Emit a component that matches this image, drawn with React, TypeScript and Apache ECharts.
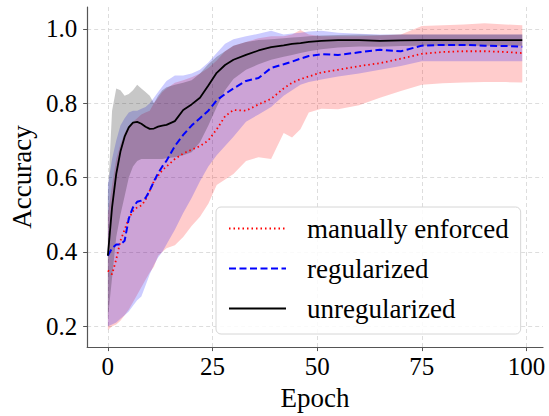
import React, { useEffect, useRef } from "react";
import * as echarts from "echarts";

const epochs = [0,1,2,3,4,5,6,7,8,9,10,11,12,13,14,16,18,20,22,24,26,28,30,33,36,39,42,44,46,48,51,55,60,65,70,75,80,85,90,95,99];

const unregMean = [0.39,0.52,0.61,0.67,0.71,0.735,0.748,0.75,0.745,0.737,0.731,0.732,0.737,0.74,0.742,0.752,0.782,0.797,0.815,0.848,0.882,0.903,0.917,0.93,0.942,0.951,0.956,0.96,0.962,0.965,0.968,0.97,0.97,0.968,0.969,0.97,0.97,0.97,0.97,0.97,0.97];
const unregLo = [0.22,0.33,0.44,0.5,0.55,0.6,0.63,0.645,0.65,0.65,0.65,0.65,0.65,0.65,0.652,0.655,0.66,0.668,0.695,0.74,0.79,0.835,0.865,0.89,0.905,0.917,0.925,0.93,0.935,0.94,0.945,0.95,0.953,0.952,0.954,0.955,0.955,0.955,0.955,0.955,0.955];
const unregHi = [0.55,0.78,0.84,0.835,0.82,0.825,0.835,0.85,0.84,0.83,0.82,0.8,0.82,0.835,0.843,0.85,0.855,0.862,0.88,0.905,0.925,0.94,0.955,0.965,0.97,0.972,0.975,0.977,0.978,0.98,0.982,0.984,0.985,0.984,0.985,0.985,0.985,0.985,0.985,0.985,0.985];

const regMean = [0.39,0.41,0.42,0.42,0.43,0.49,0.52,0.535,0.538,0.545,0.565,0.59,0.612,0.63,0.645,0.685,0.715,0.74,0.76,0.78,0.808,0.825,0.84,0.86,0.868,0.895,0.905,0.912,0.92,0.927,0.932,0.93,0.937,0.944,0.94,0.955,0.957,0.957,0.955,0.954,0.952];
const regLo = [0.2,0.205,0.21,0.22,0.23,0.24,0.255,0.27,0.28,0.31,0.34,0.365,0.385,0.4,0.42,0.46,0.505,0.545,0.59,0.63,0.66,0.685,0.71,0.75,0.77,0.79,0.82,0.835,0.85,0.857,0.864,0.872,0.88,0.89,0.9,0.913,0.913,0.913,0.913,0.913,0.913];
const regHi = [0.58,0.65,0.7,0.74,0.76,0.775,0.78,0.78,0.785,0.79,0.8,0.815,0.83,0.845,0.86,0.875,0.875,0.88,0.89,0.91,0.935,0.96,0.972,0.98,0.987,0.995,0.985,0.988,0.99,0.993,0.995,0.99,0.987,0.985,0.985,0.985,0.985,0.985,0.985,0.985,0.985];

const manMean = [0.35,0.34,0.38,0.43,0.46,0.49,0.51,0.52,0.525,0.54,0.565,0.59,0.605,0.62,0.63,0.65,0.665,0.675,0.685,0.7,0.73,0.765,0.782,0.78,0.797,0.812,0.84,0.855,0.865,0.872,0.883,0.89,0.9,0.908,0.92,0.933,0.938,0.94,0.94,0.938,0.935];
const manLo = [0.19,0.2,0.205,0.215,0.23,0.245,0.265,0.285,0.305,0.325,0.345,0.36,0.39,0.4,0.41,0.418,0.44,0.47,0.495,0.53,0.58,0.595,0.61,0.645,0.655,0.65,0.72,0.708,0.73,0.775,0.785,0.784,0.795,0.815,0.833,0.85,0.854,0.856,0.857,0.857,0.856];
const manHi = [0.5,0.58,0.65,0.69,0.72,0.74,0.75,0.76,0.77,0.775,0.78,0.8,0.815,0.83,0.84,0.855,0.862,0.87,0.88,0.895,0.915,0.94,0.955,0.965,0.975,0.98,0.98,0.985,0.997,0.985,0.98,0.98,0.98,0.982,0.985,1.008,1.01,1.012,1.015,1.012,1.01];

const xTicks = [0, 25, 50, 75, 100];
const yTicks = [0.2, 0.4, 0.6, 0.8, 1.0];

const FONT = "Liberation Serif";
const tickRich = { t: { fontFamily: FONT, fontSize: 25, color: "#000" } };

function band(name: string, lo: number[], hi: number[], fill: string) {
  return {
    type: "custom",
    name: name + " band",
    silent: true,
    data: epochs.map((e, i) => [e, lo[i], hi[i]]),
    encode: { x: 0, y: [1, 2] },
    renderItem: (params: any, api: any) => {
      if (params.dataIndex !== 0) return null;
      const upper = epochs.map((e, i) => api.coord([e, hi[i]]));
      const lower = epochs.map((e, i) => api.coord([e, lo[i]])).reverse();
      return {
        type: "polygon",
        shape: { points: upper.concat(lower) },
        style: { fill },
      };
    },
  };
}

function line(name: string, vals: number[], color: string, width: number, type: any) {
  return {
    type: "line",
    name,
    data: epochs.map((e, i) => [e, vals[i]]),
    symbol: "none",
    showSymbol: false,
    lineStyle: { color, width, type },
    itemStyle: { color },
  };
}

export default function App() {
  const ref = useRef<HTMLDivElement>(null);
  useEffect(() => {
    const chart = echarts.init(ref.current!, null, { renderer: "svg" });
    chart.setOption({
      animation: false,
      textStyle: { fontFamily: FONT },
      grid: { left: 85, top: 7, right: 6, bottom: 66, containLabel: false },
      xAxis: {
        type: "value",
        min: -4.95,
        max: 103.95,
        name: "Epoch",
        nameLocation: "middle",
        nameGap: 33,
        nameTextStyle: { fontFamily: FONT, fontSize: 27, color: "#000" },
        axisLine: { show: true, onZero: false, lineStyle: { color: "#555", width: 1.2 } },
        axisTick: { show: true, length: 4, customValues: xTicks, lineStyle: { color: "#555" } },
        axisLabel: {
          customValues: xTicks,
          margin: 7,
          fontFamily: FONT,
          fontSize: 25,
          color: "#000",
          formatter: (v: number) => `{t|${v}}`,
          rich: tickRich,
        },
        splitLine: { show: true, lineStyle: { color: "#d4d4d4", width: 0.8, type: [4, 3] } },
      },
      yAxis: {
        type: "value",
        min: 0.144,
        max: 1.059,
        name: "Accuracy",
        nameLocation: "middle",
        nameGap: 52,
        nameTextStyle: { fontFamily: FONT, fontSize: 27, color: "#000" },
        axisLine: { show: true, onZero: false, lineStyle: { color: "#555", width: 1.2 } },
        axisTick: { show: true, length: 4, customValues: yTicks, lineStyle: { color: "#555" } },
        axisLabel: {
          customValues: yTicks,
          margin: 10,
          fontFamily: FONT,
          fontSize: 25,
          color: "#000",
          formatter: (v: number) => `{t|${v.toFixed(1)}}`,
          rich: tickRich,
        },
        splitLine: { show: true, lineStyle: { color: "#d4d4d4", width: 0.8, type: [4, 3] } },
      },
      legend: {
        orient: "vertical",
        left: 216,
        top: 207,
        padding: [8, 12, 12, 12],
        itemWidth: 57,
        itemHeight: 14,
        itemGap: 13,
        itemStyle: { opacity: 0 },
        backgroundColor: "rgba(255,255,255,0.85)",
        borderColor: "#d6d6d6",
        borderWidth: 1,
        borderRadius: 5,
        textStyle: { fontFamily: FONT, fontSize: 27, color: "#000", padding: [0, 0, 0, 16] },
        data: ["manually enforced", "regularized", "unregularized"],
      },
      series: [
        band("manually enforced", manLo, manHi, "rgba(255,0,0,0.2)"),
        line("manually enforced", manMean, "#ff0000", 1.8, [1.5, 3]),
        band("regularized", regLo, regHi, "rgba(0,0,255,0.2)"),
        line("regularized", regMean, "#0000ff", 2, [7, 3.5]),
        band("unregularized", unregLo, unregHi, "rgba(0,0,0,0.22)"),
        line("unregularized", unregMean, "#000000", 1.8, "solid"),
      ],
    });
    return () => chart.dispose();
  }, []);
  return <div ref={ref} style={{ width: 549, height: 416, position: "absolute", left: 0, top: 0 }} />;
}
